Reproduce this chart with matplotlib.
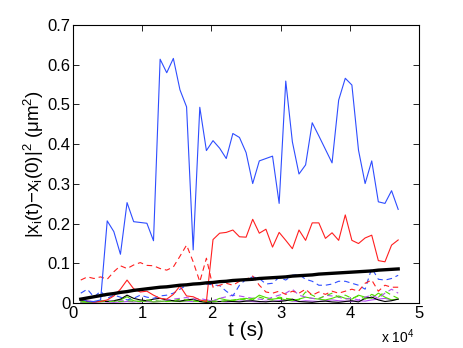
import numpy as np
import matplotlib
matplotlib.use('Agg')
import matplotlib.pyplot as plt

plt.rcParams['font.family'] = ['Liberation Sans', 'DejaVu Sans']
plt.rcParams['mathtext.fontset'] = 'custom'
plt.rcParams['mathtext.rm'] = 'Liberation Sans'
plt.rcParams['mathtext.it'] = 'Liberation Sans'

# time samples (s)
t = np.arange(49) * 956 + 1100

blue_solid = [0.010, 0.005, 0.004, 0.008, 0.207, 0.180, 0.123, 0.253, 0.205, 0.203,
              0.201, 0.157, 0.614, 0.580, 0.616, 0.537, 0.494, 0.134, 0.493, 0.384,
              0.409, 0.390, 0.364, 0.427, 0.417, 0.379, 0.301, 0.358, 0.364, 0.370,
              0.251, 0.559, 0.406, 0.325, 0.348, 0.454, 0.421, 0.387, 0.353, 0.511,
              0.566, 0.549, 0.385, 0.301, 0.358, 0.255, 0.251, 0.283, 0.236]
red_solid = [0.010, 0.005, 0.003, 0.004, 0.008, 0.018, 0.035, 0.058, 0.036, 0.028,
             0.030, 0.020, 0.012, 0.010, 0.022, 0.043, 0.018, 0.016, 0.008, 0.004,
             0.160, 0.176, 0.178, 0.184, 0.167, 0.166, 0.211, 0.176, 0.186, 0.141,
             0.178, 0.158, 0.137, 0.184, 0.158, 0.202, 0.202, 0.163, 0.177, 0.158,
             0.222, 0.158, 0.150, 0.164, 0.171, 0.107, 0.104, 0.146, 0.159]
red_dashed = [0.058, 0.066, 0.062, 0.066, 0.060, 0.079, 0.094, 0.087, 0.096, 0.102,
              0.095, 0.094, 0.087, 0.083, 0.091, 0.118, 0.146, 0.104, 0.054, 0.113,
              0.040, 0.045, 0.050, 0.045, 0.055, 0.060, 0.068, 0.045, 0.028, 0.025,
              0.030, 0.022, 0.030, 0.025, 0.035, 0.020, 0.028, 0.022, 0.030, 0.025,
              0.030, 0.035, 0.030, 0.050, 0.058, 0.030, 0.045, 0.040, 0.040]
blue_dashed = [0.025, 0.035, 0.015, 0.030, 0.012, 0.020, 0.015, 0.008, 0.012, 0.020,
               0.015, 0.012, 0.018, 0.020, 0.025, 0.035, 0.045, 0.048, 0.050, 0.048,
               0.046, 0.044, 0.030, 0.018, 0.045, 0.060, 0.066, 0.062, 0.048, 0.050,
               0.065, 0.058, 0.070, 0.072, 0.060, 0.055, 0.045, 0.045, 0.048, 0.055,
               0.055, 0.050, 0.045, 0.035, 0.088, 0.060, 0.058, 0.062, 0.070]
green_solid = [0.003, 0.002, 0.004, 0.003, 0.005, 0.004, 0.008, 0.016, 0.006, 0.004,
               0.005, 0.003, 0.004, 0.006, 0.005, 0.004, 0.006, 0.008, 0.004, 0.003,
               0.005, 0.012, 0.008, 0.006, 0.010, 0.012, 0.008, 0.020, 0.014, 0.010,
               0.012, 0.008, 0.006, 0.010, 0.015, 0.012, 0.010, 0.008, 0.012, 0.018,
               0.012, 0.010, 0.020, 0.015, 0.012, 0.025, 0.015, 0.008, 0.010]
green_dashed = [0.005, 0.003, 0.004, 0.006, 0.003, 0.005, 0.004, 0.006, 0.005, 0.004,
                0.008, 0.006, 0.005, 0.004, 0.006, 0.010, 0.008, 0.005, 0.004, 0.006,
                0.005, 0.004, 0.006, 0.008, 0.010, 0.008, 0.012, 0.015, 0.010, 0.008,
                0.015, 0.012, 0.010, 0.008, 0.028, 0.020, 0.012, 0.018, 0.025, 0.015,
                0.020, 0.012, 0.018, 0.010, 0.022, 0.015, 0.030, 0.020, 0.012]
purple_solid = [0.002, 0.003, 0.002, 0.004, 0.003, 0.002, 0.003, 0.004, 0.003, 0.005,
                0.004, 0.003, 0.004, 0.005, 0.006, 0.004, 0.005, 0.004, 0.006, 0.008,
                0.005, 0.004, 0.003, 0.004, 0.005, 0.006, 0.004, 0.003, 0.005, 0.004,
                0.006, 0.008, 0.005, 0.004, 0.006, 0.005, 0.004, 0.006, 0.008, 0.006,
                0.005, 0.004, 0.006, 0.005, 0.008, 0.010, 0.012, 0.008, 0.010]
purple_dashed = [0.004, 0.006, 0.003, 0.005, 0.008, 0.004, 0.006, 0.005, 0.004, 0.003,
                 0.005, 0.006, 0.004, 0.008, 0.010, 0.012, 0.014, 0.010, 0.012, 0.008,
                 0.006, 0.012, 0.016, 0.020, 0.018, 0.015, 0.012, 0.010, 0.008, 0.015,
                 0.020, 0.025, 0.035, 0.020, 0.015, 0.012, 0.010, 0.020, 0.018, 0.015,
                 0.010, 0.012, 0.008, 0.015, 0.020, 0.012, 0.025, 0.035, 0.025]
black_thin = [0.008, 0.004, 0.003, 0.005, 0.004, 0.006, 0.010, 0.020, 0.012, 0.008,
              0.006, 0.010, 0.012, 0.008, 0.006, 0.005, 0.008, 0.010, 0.004, 0.002,
              0.003, 0.004, 0.005, 0.004, 0.003, 0.005, 0.006, 0.004, 0.003, 0.005,
              0.004, 0.006, 0.010, 0.004, 0.003, 0.002, 0.004, 0.005, 0.003, 0.002,
              0.004, 0.006, 0.003, 0.012, 0.015, 0.008, 0.004, 0.006, 0.010]
mean_msd = [0.010, 0.013, 0.016, 0.019, 0.022, 0.024, 0.027, 0.029, 0.032, 0.034,
            0.036, 0.038, 0.040, 0.041, 0.043, 0.045, 0.046, 0.048, 0.049, 0.051,
            0.052, 0.054, 0.055, 0.057, 0.058, 0.059, 0.060, 0.062, 0.063, 0.064,
            0.065, 0.066, 0.068, 0.069, 0.070, 0.071, 0.073, 0.074, 0.075, 0.076,
            0.077, 0.078, 0.079, 0.080, 0.081, 0.083, 0.084, 0.085, 0.086]

blue = '#2e4dff'
red = '#ff1f1f'
green = '#4fdc00'
purple = '#b24cf0'
dash = (5, 3.5)

fig = plt.figure(figsize=(4.63, 3.48), dpi=100)
ax = fig.add_axes([0.158, 0.129, 0.747, 0.799])

lw = 0.8
ax.plot(t, purple_solid, color=purple, lw=lw)
ax.plot(t, green_solid, color=green, lw=lw)
ax.plot(t, black_thin, color='black', lw=lw)
ax.plot(t, purple_dashed, color=purple, lw=lw, dashes=dash)
ax.plot(t, green_dashed, color=green, lw=lw, dashes=dash)
ax.plot(t, blue_dashed, color=blue, lw=lw, dashes=dash)
ax.plot(t, red_dashed, color=red, lw=lw, dashes=dash)
ax.plot(t, red_solid, color=red, lw=lw)
ax.plot(t, blue_solid, color=blue, lw=lw)
ax.plot(t, mean_msd, color='black', lw=2.4)

ax.set_xlim(0, 50000)
ax.set_ylim(0, 0.7)
ax.set_xticks([0, 10000, 20000, 30000, 40000, 50000])
ax.set_xticklabels(['0', '1', '2', '3', '4', '5'])
ax.set_yticks([0, 0.1, 0.2, 0.3, 0.4, 0.5, 0.6, 0.7])
ax.set_yticklabels(['0', '0.1', '0.2', '0.3', '0.4', '0.5', '0.6', '0.7'])
ax.tick_params(direction='in', top=True, right=True, labelsize=12, length=4, width=0.6, pad=2)
for s in ax.spines.values():
    s.set_linewidth(0.8)

ax.set_xlabel('t (s)', fontsize=15, labelpad=0)
ax.set_ylabel(r'$|x_i(t)$$-$$x_i(0)|^2$ ($\mu$m$^2$)', fontsize=13.5, labelpad=1)
ax.text(0.938, -0.145, r'x 10$^4$', transform=ax.transAxes, fontsize=10, ha='center', va='baseline')

fig.savefig('out.png', dpi=100)
